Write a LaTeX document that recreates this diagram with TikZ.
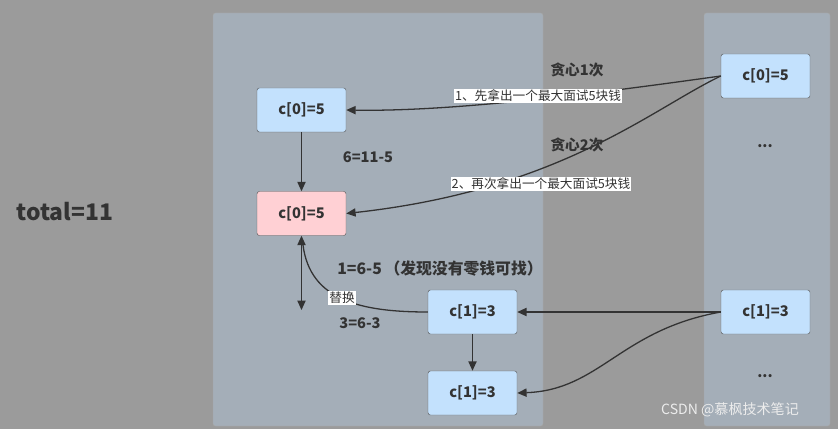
\documentclass[tikz,border=0pt]{standalone}
\usepackage{fontspec}
\setmainfont{Noto Sans CJK SC}
\usetikzlibrary{arrows.meta}
\definecolor{bg}{HTML}{9B9B9B}
\definecolor{panel}{HTML}{A4AEB8}
\definecolor{blu}{HTML}{C3E1FD}
\definecolor{pnk}{HTML}{FFD0D4}
\definecolor{ink}{HTML}{333333}
\tikzset{
 box/.style={draw=ink!80,rounded corners=2pt,minimum width=89*0.03cm,minimum height=44*0.03cm,font=\bfseries\fontsize{12.5}{14}\selectfont,text=ink,inner sep=0pt},
 lbl/.style={font=\bfseries\fontsize{12.5}{14}\selectfont,text=ink,inner sep=0pt},
 tag/.style={fill=white,font=\fontsize{10.8}{12}\selectfont,text=ink,inner sep=1pt},
 conn/.style={draw=ink,line width=1.1pt,-{Triangle[length=8pt,width=7pt]}},
}
\begin{document}
\begin{tikzpicture}[x=0.03cm,y=-0.03cm]
\fill[bg] (0,0) rectangle (838,429);
\useasboundingbox (0,0) rectangle (838,429);
\filldraw[fill=panel,draw=gray!70,rounded corners=2pt] (213,13) rectangle (543,426);
\filldraw[fill=panel,draw=gray!70,rounded corners=2pt] (704,13) rectangle (830,426);
\node[box,fill=blu] (a) at (301.5,110) {c[0]=5};
\node[box,fill=pnk] (b) at (301.5,213.5) {c[0]=5};
\node[box,fill=blu] (c) at (472.5,312) {c[1]=3};
\node[box,fill=blu] (d) at (472.5,393) {c[1]=3};
\node[box,fill=blu] (r0) at (765.5,76) {c[0]=5};
\node[box,fill=blu] (r1) at (765.5,312) {c[1]=3};
\node[lbl] (dots1) at (765,146) {...};
\node[lbl] (dots2) at (765,376) {...};
\node[font=\bfseries\fontsize{19.5}{22}\selectfont,text=ink] (tot) at (65,212) {total=11};
\node[lbl] (g1) at (577,70) {贪心1次};
\node[lbl] (g2) at (577,145) {贪心2次};
\node[lbl] (e1) at (368,157) {6=11-5};
\node[lbl,font=\bfseries\fontsize{13.5}{15}\selectfont] (e2) at (440,269) {1=6-5\,（发现没有零钱可找）};
\node[lbl] (e3) at (360,323) {3=6-3};
\coordinate (lo) at (301.5,310);
\draw[conn] (a) -- (b);
\draw[conn] (c) -- (d);
\draw[draw=ink,line width=1.1pt,{Triangle[length=8pt,width=7pt]}-{Triangle[length=8pt,width=7pt]}] (b.south) -- (lo);
\draw[conn] (r0.west) .. controls (620,90) and (460,112) .. (a.east);
\draw[conn] (r0.west) .. controls (650,110) and (560,190) .. (b.east);
\draw[conn] (r1.west) -- (c.east);
\draw[conn] (r1.west) .. controls (620,330) and (600,390) .. (d.east);
\draw[draw=ink,line width=1.1pt] (c.west) .. controls (360,312) and (310,300) .. (303,245);
\node[tag] (t1) at (538,96) {1、先拿出一个最大面试5块钱};
\node[tag] (t2) at (541,184) {2、再次拿出一个最大面试5块钱};
\node[tag] (t3) at (342,298) {替换};
\node[text=white!85!gray,font=\fontsize{12}{14}\selectfont] (wm) at (730,410) {CSDN @慕枫技术笔记};
\end{tikzpicture}
\end{document}
